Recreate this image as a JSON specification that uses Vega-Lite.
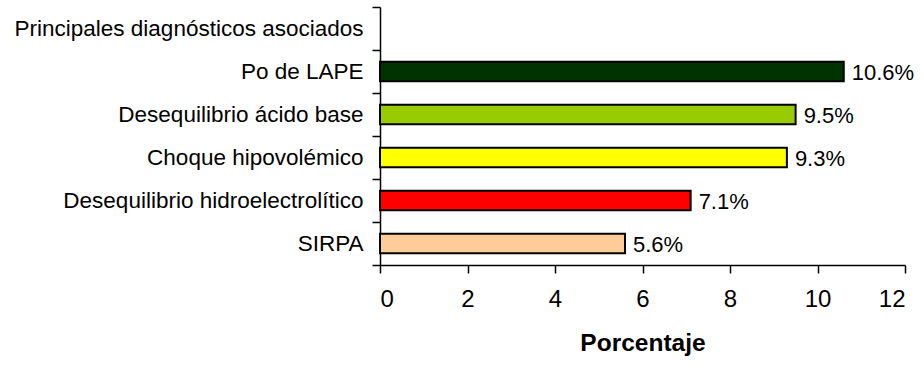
{
  "$schema": "https://vega.github.io/schema/vega-lite/v6.json",
  "width": 525,
  "height": 258,
  "autosize": {"type": "none"},
  "padding": {"left": 380, "top": 7, "right": 19, "bottom": 100},
  "background": "white",
  "config": {
    "view": {"stroke": null},
    "font": "Liberation Sans"
  },
  "data": {
    "values": [
      {"diagnostico": "Principales diagnósticos asociados", "porcentaje": null},
      {"diagnostico": "Po de LAPE", "porcentaje": 10.6},
      {"diagnostico": "Desequilibrio ácido base", "porcentaje": 9.5},
      {"diagnostico": "Choque hipovolémico", "porcentaje": 9.3},
      {"diagnostico": "Desequilibrio hidroelectrolítico", "porcentaje": 7.1},
      {"diagnostico": "SIRPA", "porcentaje": 5.6}
    ]
  },
  "encoding": {
    "y": {
      "field": "diagnostico",
      "type": "nominal",
      "sort": null,
      "scale": {
        "domain": ["Principales diagnósticos asociados", "Po de LAPE", "Desequilibrio ácido base", "Choque hipovolémico", "Desequilibrio hidroelectrolítico", "SIRPA"],
        "paddingInner": 0,
        "paddingOuter": 0
      },
      "axis": {
        "title": null,
        "domainColor": "black",
        "domainWidth": 1.5,
        "tickColor": "black",
        "tickWidth": 1.5,
        "tickSize": 8,
        "tickBand": "extent",
        "labelFontSize": 22.5,
        "labelColor": "black",
        "labelPadding": 9,
        "labelLimit": 400
      }
    },
    "x": {
      "field": "porcentaje",
      "type": "quantitative",
      "scale": {"domain": [0, 12], "nice": false},
      "axis": {
        "title": "Porcentaje",
        "values": [0, 2, 4, 6, 8, 10, 12],
        "grid": false,
        "domainColor": "black",
        "domainWidth": 1.5,
        "tickColor": "black",
        "tickWidth": 1.5,
        "tickSize": 8,
        "labelFontSize": 24,
        "labelColor": "black",
        "labelPadding": 14,
        "titleFontSize": 24.5,
        "titleFontWeight": "bold",
        "titleColor": "black",
        "titlePadding": 20
      }
    }
  },
  "layer": [
    {
      "mark": {"type": "bar", "height": {"band": 0.45}, "stroke": "black", "strokeWidth": 2},
      "encoding": {
        "color": {
          "field": "diagnostico",
          "type": "nominal",
          "scale": {
            "domain": ["Po de LAPE", "Desequilibrio ácido base", "Choque hipovolémico", "Desequilibrio hidroelectrolítico", "SIRPA"],
            "range": ["#003300", "#99CC00", "#FFFF00", "#FF0000", "#FFCC99"]
          },
          "legend": null
        }
      }
    },
    {
      "transform": [
        {"filter": "datum.porcentaje != null"},
        {"calculate": "format(datum.porcentaje, '.1f') + '%'", "as": "etiqueta"}
      ],
      "mark": {"type": "text", "align": "left", "baseline": "middle", "dx": 8, "dy": 1, "fontSize": 22, "color": "black"},
      "encoding": {
        "text": {"field": "etiqueta", "type": "nominal"}
      }
    }
  ]
}
